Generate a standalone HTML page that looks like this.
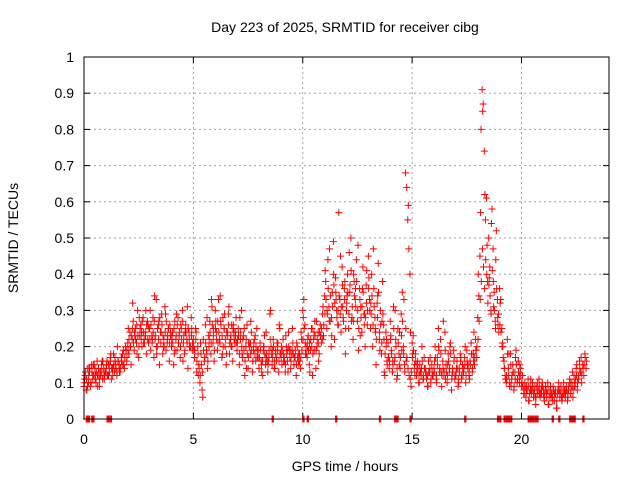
<!DOCTYPE html>
<html><head><meta charset="utf-8"><style>
body{margin:0;background:#fff;}
svg{display:block;font-family:"Liberation Sans",sans-serif;}
</style></head><body>
<svg id="chart" width="640" height="480" viewBox="0 0 640 480" xmlns="http://www.w3.org/2000/svg">
<text x="345" y="32" font-size="14" text-anchor="middle">Day 223 of 2025, SRMTID for receiver cibg</text>
<text transform="translate(18,238) rotate(-90)" font-size="14" text-anchor="middle">SRMTID / TECUs</text>
<text x="345" y="471" font-size="14" text-anchor="middle">GPS time / hours</text>
<g id="grid"></g>
<g id="ticks"></g>
<g id="marks"></g>
<rect x="84" y="57" width="525" height="362" fill="none" stroke="#000" stroke-width="1"/>
</svg>
<script>
const xTicks=[0,5,10,15,20];
const yTicks=[0,0.1,0.2,0.3,0.4,0.5,0.6,0.7,0.8,0.9,1];
const yTickLabels=["0","0.1","0.2","0.3","0.4","0.5","0.6","0.7","0.8","0.9","1"];
const hourValuesA=[
[9,12,8,14,10,13,9,15,11,12,14,10,16,12,9,13,15,11,14,12],
[13,16,12,15,17,11,14,18,13,15,12,16,14,13,17,15,19,14,20,16],
[21,18,24,15,22,27,19,25,21,30,17,23,26,20,28,22,24,18,27,21],
[25,19,23,28,17,22,33,20,26,15,24,29,18,22,31,19,21,25,16,23],
[20,24,15,27,22,19,28,23,17,25,30,21,18,26,22,14,24,20,28,19],
[22,17,25,13,20,15,10,18,8,22,16,26,19,14,23,27,18,31,21,16],
[30,24,19,33,22,27,17,28,25,20,15,23,29,18,22,26,16,24,21,28],
[19,25,15,22,30,17,23,12,20,26,14,21,18,24,13,19,22,16,25,17],
[14,21,16,12,19,23,15,18,13,17,29,20,15,22,14,18,16,19,13,25],
[18,15,22,17,13,20,16,24,19,14,18,21,15,17,12,20,16,18,14,22],
[30,33,26,20,17,23,15,19,25,12,22,27,14,20,24,18,26,21,29,23],
[34,38,25,44,31,27,20,35,49,22,39,30,26,57,33,24,42,28,36,18],
[30,40,25,35,50,28,22,38,33,44,27,19,36,31,24,42,29,20,37,26],
[45,33,25,40,20,36,28,15,32,43,22,30,18,38,26,12,24,16,21,14],
[27,19,13,31,16,22,11,25,18,14,29,35,20,15,68,64,55,47,40,9],
[21,23,14,18,12,16,10,15,13,20,11,17,14,12,9,16,13,10,15,12],
[14,20,11,17,25,13,22,9,16,12,24,15,10,18,13,21,8,14,19,11],
[12,16,9,14,18,11,15,13,17,10,19,14,12,16,21,13,18,15,22,17],
[28,34,45,80,91,87,74,55,61,38,50,42,30,58,47,35,27,52,33,29],
[36,33,25,20,16,12,10,22,14,9,18,11,15,8,13,19,10,16,12,14],
[9,12,7,10,6,8,11,5,9,7,10,6,8,4,9,7,11,6,8,10],
[7,5,9,6,10,4,8,6,7,9,5,8,3,7,10,6,9,5,8,7],
[6,9,5,8,11,7,10,6,12,9,14,8,11,16,13,10,15,12,18,14]
];
const hourValuesB=[
[11,8,14,10,15,12,9,13,16,11],
[15,12,18,14,16,20,13,17,15,19],
[25,20,32,23,18,28,24,21,30,26],
[30,22,34,18,27,24,20,29,23,26],
[23,18,29,21,26,16,24,31,20,25],
[19,24,12,21,6,17,28,22,33,25],
[27,21,34,18,29,24,31,20,26,23],
[22,28,18,25,14,21,27,16,23,19],
[17,13,20,24,16,30,19,14,21,26],
[20,16,23,13,19,25,17,21,15,24],
[28,18,22,13,25,19,27,16,23,31],
[41,29,47,23,37,33,26,45,31,38],
[34,46,27,40,31,48,23,36,29,41],
[39,29,47,24,34,19,27,13,22,17],
[23,15,30,12,24,19,33,16,59,24],
[18,12,15,10,14,11,13,9,17,12],
[16,10,19,13,27,11,15,20,12,17],
[14,10,17,12,20,15,11,18,24,19],
[40,57,85,62,48,39,54,31,44,26],
[32,21,14,11,18,9,13,17,11,15],
[10,7,9,5,11,8,6,10,7,9],
[6,8,4,9,5,7,3,8,6,10],
[8,6,10,13,9,15,12,17]
];
const hourValuesC=[
[10,13,11,9,12,14,10,13,12,15,11,13,12,14,11,12,13,16,12,13],
[14,12,15,13,16,14,12,15,17,14,13,16,15,14,16,18,15,17,19,17],
[19,22,20,23,25,21,24,22,26,23,20,25,22,27,24,21,23,26,22,25],
[22,26,21,24,27,23,20,25,22,28,21,26,23,20,24,27,22,25,21,24],
[22,21,25,19,23,26,21,24,20,22,27,23,19,24,21,25,22,20,23,21],
[20,19,22,16,18,14,12,15,13,19,17,21,18,16,20,24,21,26,23,19],
[25,22,27,24,21,26,23,20,25,22,18,24,26,21,23,20,25,22,24,21],
[21,23,18,24,20,22,19,16,22,18,17,20,21,19,16,21,18,20,17,19],
[17,19,15,16,20,18,17,16,15,19,22,18,17,20,16,19,17,21,16,18],
[17,19,18,16,15,18,19,20,17,16,19,18,17,19,15,17,18,16,17,19],
[22,25,21,18,20,19,21,22,20,18,24,23,19,22,21,24,23,25,22,26],
[29,33,30,36,27,34,28,31,40,32,35,28,30,34,29,31,37,27,33,25],
[32,35,29,37,41,31,27,34,36,38,30,25,33,28,31,35,26,28,32,30],
[36,30,32,34,26,31,25,22,28,35,24,26,21,29,22,18,20,15,17,16],
[22,18,16,25,17,20,14,21,15,17,23,27,18,13,25,17,14,12,11,13],
[17,19,15,16,13,14,12,13,12,16,12,14,13,11,12,13,14,11,13,12],
[13,17,12,15,20,14,18,12,14,13,19,13,12,16,14,18,11,13,16,12],
[13,14,11,13,16,12,14,14,15,12,16,15,13,15,18,14,16,17,19,20],
[22,27,33,38,47,42,36,44,40,32,37,34,29,41,38,30,25,36,28,24],
[26,24,20,17,14,11,12,18,12,10,15,12,13,9,11,15,11,13,10,12],
[10,9,8,9,7,8,9,7,8,8,9,7,9,6,8,8,9,7,7,9],
[8,7,8,7,8,6,7,7,6,8,7,7,5,8,8,7,8,6,7,8],
[7,8,7,9,10,8,9,8,10,11,12,10,12,14,13,12,14,15,17,16]
];
const zeroTimes=[0.1,0.15,0.2,0.35,0.4,1.05,1.1,1.2,8.6,10.0,10.2,11.5,13.5,14.2,14.3,14.9,17.4,18.9,19.0,19.2,19.3,19.4,19.5,20.3,20.4,20.5,20.6,20.7,21.4,21.7,22.2,22.3,22.4,22.8];

const X0=84,X1=609,Y0=419,Y1=57,XMAX=24;
const xs=t=>X0+(X1-X0)*t/XMAX;
const ys=v=>Y0-(Y0-Y1)*v;
const NS="http://www.w3.org/2000/svg";
const grid=document.getElementById('grid'),ticks=document.getElementById('ticks'),marks=document.getElementById('marks');
function mk(tag,attrs,parent){const e=document.createElementNS(NS,tag);for(const k in attrs)e.setAttribute(k,attrs[k]);parent.appendChild(e);return e;}
yTicks.forEach((v,i)=>{
  const y=ys(v);
  if(v>0&&v<1){const g=mk('line',{x1:X0,x2:X1,y1:y,y2:y,stroke:'#a0a0a0','stroke-dasharray':'2,3'},grid);
  
  }
  const t=mk('line',{x1:X0,x2:X0+6,y1:y,y2:y,stroke:'#000'},ticks);
  
  
  const t2=mk('line',{x1:X1-6,x2:X1,y1:y,y2:y,stroke:'#000'},ticks);
  
  
  const l=mk('text',{x:X0-10,y:y+5,'font-size':14,'text-anchor':'end'},ticks);
  l.textContent=yTickLabels[i];
  
  
});
xTicks.forEach(v=>{
  const x=xs(v);
  if(v>0){const g=mk('line',{x1:x,x2:x,y1:Y0,y2:Y1,stroke:'#a0a0a0','stroke-dasharray':'2,3'},grid);
  
  }
  const t=mk('line',{x1:x,x2:x,y1:Y0,y2:Y0-6,stroke:'#000'},ticks);
  
  
  const t2=mk('line',{x1:x,x2:x,y1:Y1,y2:Y1+6,stroke:'#000'},ticks);
  
  
  const l=mk('text',{x:x,y:Y0+25,'font-size':14,'text-anchor':'middle'},ticks);
  l.textContent=String(v);
  
  
});
function plus(t,v,color){
  const x=xs(t),y=ys(v);
  const p=mk('path',{d:`M${x-3.5},${y}h7M${x},${y-3.5}v7`,stroke:color,'stroke-width':1,fill:'none'},marks);
  
  
}
hourValuesA.forEach((arr,h)=>arr.forEach((v,i)=>plus(h+i*0.05,v/100,'#ff0000')));
hourValuesB.forEach((arr,h)=>arr.forEach((v,i)=>plus(h+0.025+i*0.1,v/100,'#ff0000')));
hourValuesC.forEach((arr,h)=>arr.forEach((v,i)=>plus(h+0.0125+i*0.05,v/100,'#ff0000')));
zeroTimes.forEach(t=>{plus(t,0,'#ff0000');plus(t+0.03,0,'#ff0000');plus(t+0.06,0,'#ff0000');});
</script>
</body></html>
